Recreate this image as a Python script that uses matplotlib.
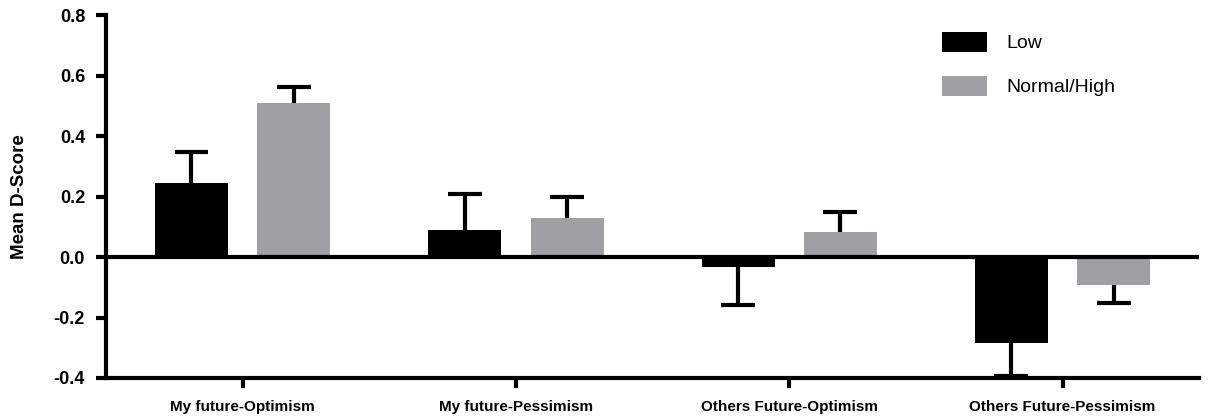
import numpy as np
import matplotlib
matplotlib.use('Agg')
import matplotlib.pyplot as plt

plt.rcParams['font.family'] = ['Liberation Sans', 'DejaVu Sans']

categories = ['My future-Optimism', 'My future-Pessimism', 'Others Future-Optimism', 'Others Future-Pessimism']
low_vals = [0.245, 0.089, -0.033, -0.285]
low_err = [0.102, 0.121, 0.125, 0.108]
high_vals = [0.509, 0.129, 0.082, -0.092]
high_err = [0.053, 0.069, 0.066, 0.059]
series_names = ['Low', 'Normal/High']
colors = ['black', '#a0a0a4']

fig = plt.figure(figsize=(12.08, 4.2), dpi=100)
ax = fig.add_axes([0.0877, 0.1, 0.905, 0.864])

x = np.arange(len(categories))
w = 0.267
off = 0.187
cap = 0.062

# bars + one-sided error bars (away from zero), caps only at the far end
for xs, vals, errs, col, name in [(x - off, low_vals, low_err, colors[0], series_names[0]),
                                  (x + off, high_vals, high_err, colors[1], series_names[1])]:
    ax.bar(xs, vals, w, color=col, label=name, zorder=2)
    vals = np.array(vals)
    errs = np.array(errs)
    ends = vals + np.sign(vals) * errs
    ax.vlines(xs, vals, ends, color='black', lw=3, zorder=1.5)
    ax.hlines(ends, xs - cap, xs + cap, color='black', lw=3, zorder=1.5)

ax.axhline(0, color='black', lw=3, zorder=3)

ax.set_xlim(-0.5, 3.5)
ax.set_ylim(-0.4, 0.8)
ax.set_yticks([-0.4, -0.2, 0.0, 0.2, 0.4, 0.6, 0.8])
ax.set_yticklabels(['-0.4', '-0.2', '0.0', '0.2', '0.4', '0.6', '0.8'],
                   fontweight='bold', fontsize=13)
ax.set_xticks(x)
ax.set_xticklabels(categories, fontweight='bold', fontsize=11)

for s in ['top', 'right']:
    ax.spines[s].set_visible(False)
for s in ['left', 'bottom']:
    ax.spines[s].set_linewidth(3)
ax.tick_params(axis='both', width=3, length=7, direction='out')
ax.tick_params(axis='y', pad=8)
ax.tick_params(axis='x', pad=9)

ax.set_ylabel('Mean D-Score', fontweight='bold', fontsize=13.5)
ax.yaxis.set_label_coords(-0.071, 0.5)

ax.legend(loc='upper left', bbox_to_anchor=(0.78, 0.924), bbox_transform=fig.transFigure,
          frameon=False, fontsize=14, handlelength=2.3, handleheight=1.2,
          labelspacing=1.2, handletextpad=1.0, borderpad=0, borderaxespad=0)

plt.savefig('out.png', dpi=100)
